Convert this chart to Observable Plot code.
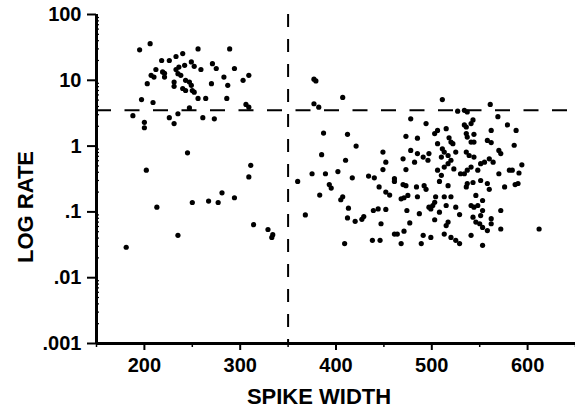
<!DOCTYPE html>
<html><head><meta charset="utf-8">
<script src="https://cdn.jsdelivr.net/npm/d3@7"></script>
<script src="https://cdn.jsdelivr.net/npm/@observablehq/plot@0.6"></script>
<style>html,body{margin:0;padding:0;background:#fff}</style>
</head><body><div id="chart"></div>
<script>
// Cells left of the 350 cut (narrow spikes)
const narrowWidth = [195,206,218,226,233,240,256,289,212,219,221,207,210,221,203,233,236,242,249,252,259,235,238,231,231,240,243,243,247,249,250,252,256,264,271,275,294,283,270,287,303,309,286,197,209,247,306,309,188,200,200,226,235,231,261,273,245,202,311,309,281,294,267,277,250,213,314,329,334,333,235,181];
const narrowRate = [29,36,20,20,23,25.5,30,30,14.6,13.4,12.8,11.9,11.2,11.2,8.9,14.6,15.9,16.9,19,16.3,14.6,12.6,11.9,9.4,8.1,7.5,7.0,10,9.4,8.4,7.0,6.6,5.3,5.3,17.9,15.1,15.1,11.2,8.9,8.4,10,11.9,5.3,5.1,4.6,3.8,4.3,3.9,2.9,2.3,1.9,2.7,3.1,2.2,2.7,2.6,0.79,0.43,0.51,0.34,0.195,0.164,0.146,0.139,0.139,0.118,0.064,0.054,0.045,0.041,0.044,0.029];
// Cells right of the cut (broad spikes)
const broadWidth = [360,368,377,379,377,382,407,387,412,421,385,410,449,452,473,470,375,389,402,417,434,440,449,461,461,473,393,395,383,407,405,445,452,456,470,473,468,471,475,413,439,444,452,474,412,420,427,429,447,477,461,464,471,438,446,409,468,
511,561,527,534,537,478,494,543,541,569,579,485,503,506,515,534,536,562,536,537,541,544,506,520,522,518,558,562,478,485,491,496,497,511,513,517,510,525,536,539,544,520,517,513,523,530,534,537,541,548,551,555,560,564,570,572,570,581,482,506,510,484,492,494,504,503,501,499,513,520,515,508,497,525,541,544,548,553,546,553,551,543,546,550,553,562,562,572,572,487,491,499,513,520,525,529,515,517,541,553,485,489,536,537,543,551,558,560,576,517,508,503,529,558,544,
588,586,594,584,591,587,590,612];
const broadRate = [0.29,0.090,10.4,9.8,4.4,3.9,5.5,1.58,1.51,1.0,0.74,0.61,0.81,0.57,1.41,0.64,0.38,0.38,0.41,0.33,0.35,0.33,0.44,0.32,0.29,0.44,0.26,0.23,0.18,0.17,0.153,0.24,0.20,0.18,0.26,0.25,0.158,0.164,0.178,0.114,0.105,0.111,0.109,0.105,0.081,0.072,0.077,0.085,0.066,0.068,0.046,0.046,0.051,0.037,0.037,0.033,0.033,
5.1,4.3,3.4,3.5,3.3,2.6,2.2,2.5,2.2,2.8,2.1,1.32,1.55,1.73,1.84,2.1,1.95,1.73,1.55,1.37,1.15,1.15,1.09,1.15,1.09,1.34,1.22,1.13,0.86,0.77,0.68,0.61,0.77,0.91,0.81,0.72,0.68,0.81,0.81,0.72,0.68,0.61,0.54,0.48,0.45,0.38,0.38,0.43,0.48,0.43,0.54,0.57,0.64,0.57,0.86,0.77,0.38,0.43,0.57,0.43,0.36,0.24,0.25,0.22,0.17,0.14,0.125,0.111,0.17,0.17,0.125,0.099,0.118,0.118,0.125,0.118,0.125,0.149,0.178,0.105,0.088,0.083,0.070,0.066,0.058,0.079,0.066,0.105,0.055,0.094,0.044,0.041,0.046,0.041,0.037,0.033,0.062,0.070,0.044,0.031,0.17,0.033,0.24,0.27,0.28,0.30,0.27,0.22,0.24,0.25,0.29,0.076,0.091,0.052,1.51,
1.73,1.03,0.52,0.43,0.39,0.26,0.27,0.055];

const widthCut = 350;
const rateCut = 3.5;

const xTicks = [200,300,400,500,600];
const xMinorTicks = [150,250,350,450,550,650];
const yTicks = [0.001,0.01,0.1,1,10,100];
const yTickLabels = [".001",".01",".1","1","10","100"];
const yMinorTicks = [0.002,0.003,0.004,0.005,0.006,0.007,0.008,0.009,
  0.02,0.03,0.04,0.05,0.06,0.07,0.08,0.09,
  0.2,0.3,0.4,0.5,0.6,0.7,0.8,0.9,
  2,3,4,5,6,7,8,9,
  20,30,40,50,60,70,80,90];

const data = [
  ...narrowWidth.map((w,i)=>({width:w, rate:narrowRate[i]})),
  ...broadWidth.map((w,i)=>({width:w, rate:broadRate[i]}))
];

const font = "'Liberation Sans', Arial, Helvetica, sans-serif";
const chart = Plot.plot({
  width: 575, height: 407,
  marginLeft: 96, marginRight: 0, marginTop: 14, marginBottom: 64,
  style: {fontFamily: font, fontWeight: "bold", background: "#fff", color: "#000", overflow: "visible"},
  x: {domain: [150, 650]},
  y: {type: "log", domain: [0.001, 100]},
  marks: [
    Plot.ruleX([widthCut], {strokeDasharray: "13,12", strokeWidth: 2}),
    Plot.ruleY([rateCut], {strokeDasharray: "15,13.5", strokeWidth: 2}),
    Plot.dot(data, {x: "width", y: "rate", r: 2.6, fill: "#000", stroke: null}),
    Plot.axisX(xMinorTicks, {tickSize: 4, tickFormat: () => "", strokeWidth: 1.5, label: null}),
    Plot.axisX(xTicks, {tickSize: 7, tickPadding: 7, fontSize: 20, strokeWidth: 2, label: null, tickFormat: d => String(d)}),
    Plot.axisY(yTicks, {tickSize: 9, tickPadding: 6, fontSize: 20, strokeWidth: 2, label: null,
      tickFormat: d => yTickLabels[yTicks.indexOf(d)]}),
    Plot.axisY(yMinorTicks, {tickSize: 3, insetLeft: 3, strokeWidth: 1.2, tickFormat: () => "", label: null}),
    Plot.ruleX([150], {strokeWidth: 3}),
    Plot.ruleY([0.001], {strokeWidth: 3}),
    Plot.text(["SPIKE WIDTH"], {text: d => d, frameAnchor: "bottom", dx: -17, dy: 53, fontSize: 22, lineAnchor: "middle", textAnchor: "middle", fontWeight: "bold"}),
    Plot.text(["LOG RATE"], {text: d => d, frameAnchor: "left", dx: -71, dy: 28, rotate: -90, fontSize: 22, lineAnchor: "middle", textAnchor: "middle", fontWeight: "bold"})
  ]
});
document.getElementById("chart").appendChild(chart);
</script>
</body></html>
